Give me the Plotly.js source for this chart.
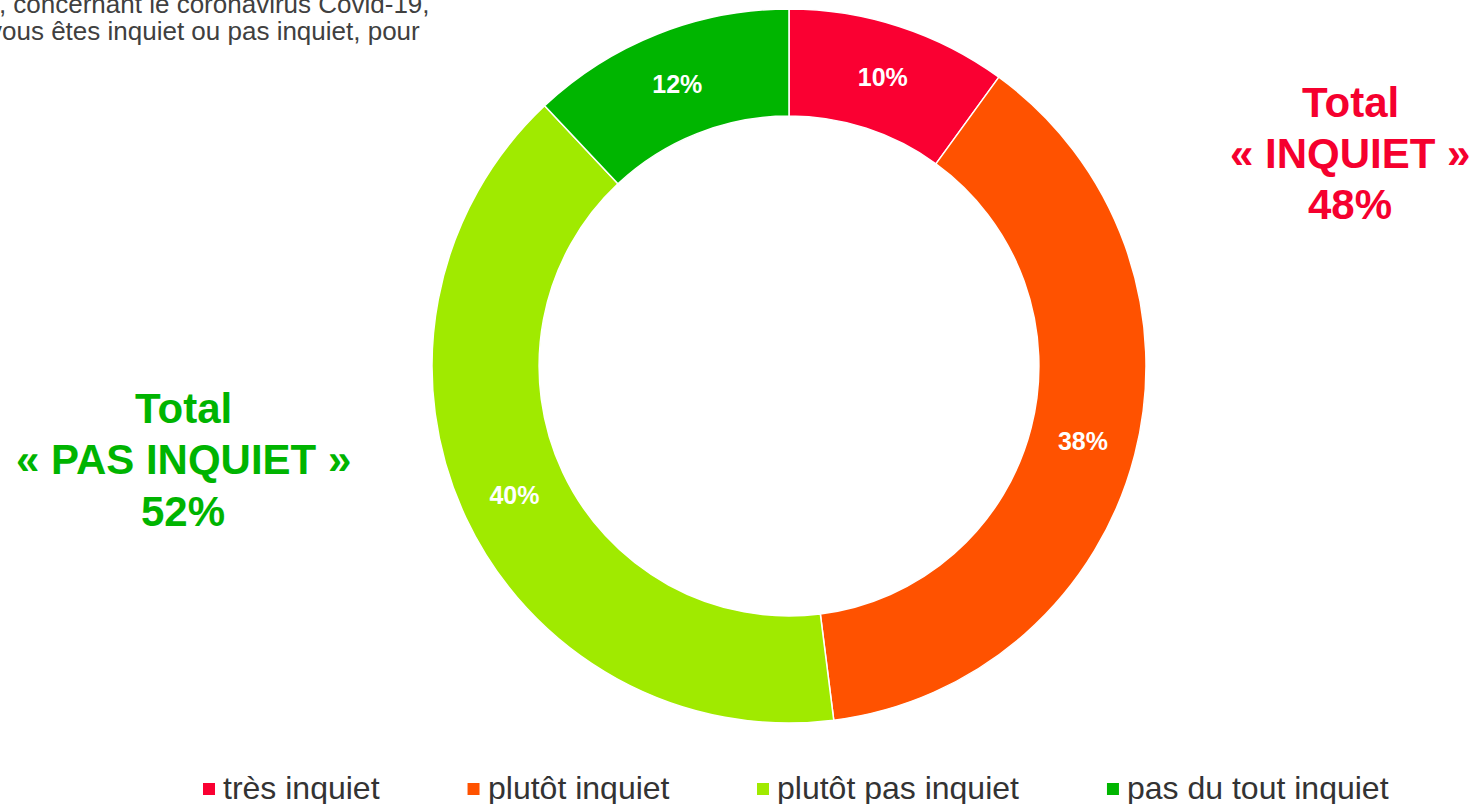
<!DOCTYPE html>
<html><head><meta charset="utf-8">
<script src="https://cdn.plot.ly/plotly-3.0.1.min.js"></script>
<style>html,body{margin:0;padding:0;background:#fff}#chart{width:1475px;height:804px}</style>
</head><body><div id="chart"></div>
<script>
const categories = ["très inquiet", "plutôt inquiet", "plutôt pas inquiet", "pas du tout inquiet"];
const values = [10, 38, 40, 12];
const colors = ["#FA0032", "#FF5200", "#A0EA00", "#00B500"];
const totalInquiet = 48;
const totalPasInquiet = 52;
const questionLines = ["Diriez-vous qu'en ce moment, concernant le coronavirus Covid-19,", "vous êtes inquiet ou pas inquiet, pour"];
const inquietLines = ["Total", "« INQUIET »", totalInquiet + "%"];
const pasInquietLines = ["Total", "« PAS INQUIET »", totalPasInquiet + "%"];

const W = 1475, H = 804;
const cx = 789, cy = 366, R = 357;
const FONT = "Liberation Sans, Arial, sans-serif";

const trace = {
  type: "pie",
  labels: categories,
  values: values,
  sort: false,
  direction: "clockwise",
  rotation: 0,
  hole: 0.70,
  marker: {colors: colors, line: {color: "#ffffff", width: 1.5}},
  texttemplate: "<b>%{value}%</b>",
  textposition: "inside",
  insidetextorientation: "horizontal",
  insidetextfont: {family: FONT, size: 25, color: "#ffffff"},
  domain: {x: [(cx - R) / W, (cx + R) / W], y: [1 - (cy + R) / H, 1 - (cy - R) / H]},
  hoverinfo: "label+percent",
  showlegend: false
};

const annotations = [
  {xref: "paper", yref: "paper", x: 432 / W, y: 1 - 4 / H, xanchor: "right", yanchor: "middle", showarrow: false,
   text: questionLines[0], font: {family: FONT, size: 26, color: "#404040"}},
  {xref: "paper", yref: "paper", x: 422 / W, y: 1 - 31 / H, xanchor: "right", yanchor: "middle", showarrow: false,
   text: questionLines[1], font: {family: FONT, size: 26, color: "#404040"}}
];

const redY = [102, 153, 205], greenY = [408, 460, 511];
inquietLines.forEach((t, i) => annotations.push({xref: "paper", yref: "paper", x: 1350 / W, y: 1 - redY[i] / H,
  xanchor: "center", yanchor: "middle", showarrow: false, text: "<b>" + t + "</b>",
  font: {family: FONT, size: 42, color: "#F5002E"}}));
pasInquietLines.forEach((t, i) => annotations.push({xref: "paper", yref: "paper", x: 183 / W, y: 1 - greenY[i] / H,
  xanchor: "center", yanchor: "middle", showarrow: false, text: "<b>" + t + "</b>",
  font: {family: FONT, size: 42, color: "#00B400"}}));

// Custom legend laid out from measured text widths
const shapes = [];
const legFontSize = 32;
const ctx = document.createElement("canvas").getContext("2d");
ctx.font = legFontSize + "px 'Liberation Sans'";
let lx = 203;
const legCY = 789, sq = 12, symGap = 8, itemGap = 88;
categories.forEach((c, i) => {
  shapes.push({type: "rect", xref: "paper", yref: "paper", line: {width: 0}, fillcolor: colors[i],
    x0: lx / W, x1: (lx + sq) / W, y0: 1 - (legCY + sq / 2) / H, y1: 1 - (legCY - sq / 2) / H});
  const tx = lx + sq + symGap;
  annotations.push({xref: "paper", yref: "paper", x: tx / W, y: 1 - 788 / H, xanchor: "left", yanchor: "middle",
    showarrow: false, text: c, font: {family: FONT, size: legFontSize, color: "#333333"}, xshift: -2});
  lx = tx + ctx.measureText(c).width + itemGap;
});

const layout = {
  width: W, height: H,
  margin: {l: 0, r: 0, t: 0, b: 0},
  paper_bgcolor: "#ffffff",
  showlegend: false,
  annotations: annotations,
  shapes: shapes
};

Plotly.newPlot("chart", [trace], layout, {displayModeBar: false, staticPlot: true});
</script></body></html>
